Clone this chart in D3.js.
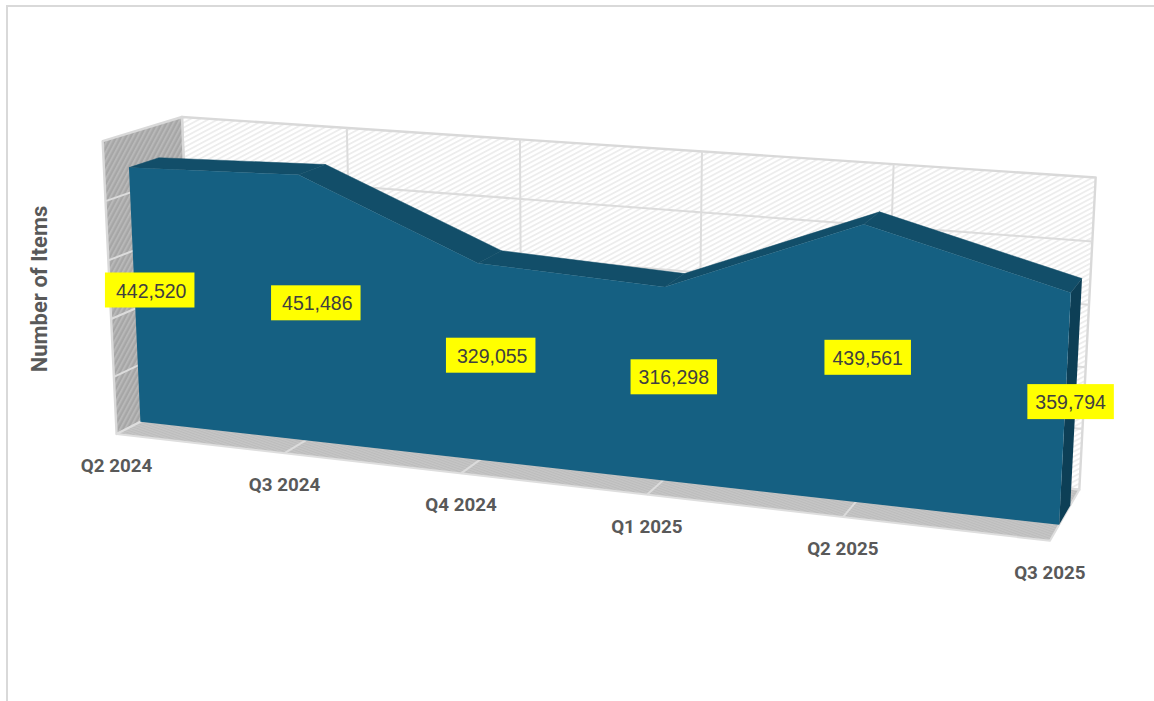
<!DOCTYPE html>
<html>
<head>
<meta charset="utf-8">
<script src="https://cdn.jsdelivr.net/npm/d3@7/dist/d3.min.js"></script>
<style>
  html, body { margin: 0; padding: 0; background: #fff; }
  svg { display: block; }
</style>
</head>
<body>
<svg id="chart" width="1154" height="701"></svg>
<script>
// Quarterly item counts
const categories = ["Q2 2024", "Q3 2024", "Q4 2024", "Q1 2025", "Q2 2025", "Q3 2025"];
const itemCounts = [442520, 451486, 329055, 316298, 439561, 359794];
const axisTitle = "Number of Items";
const valueMax = 500000;
const valueStep = 100000;

// Chart-space scales: each one maps onto the unit box
const uScale = d3.scalePoint().domain(categories).range([0, 1]);
const vScale = d3.scaleLinear().domain([0, valueMax]).range([0, 1]);
const seriesDepth = [0.30, 0.68];

// Camera calibration pairs: [u, v, depth] -> [screen x, screen y]
const calibration = [
  [[0, 0, 0], [117, 433]], [[1, 0, 0], [1052, 542]], [[1, 0, 1], [1080, 490]], [[0, 0, 1], [192, 397]],
  [[0, 1, 0], [101, 142]], [[0, 1, 1], [182, 116]], [[1, 1, 1], [1096, 178]],
  [[0, 0, .3], [141, 421]], [[1, 0, .3], [1058, 524]], [[1, 0, .68], [1069, 505]],
  [[0, .885, .3], [129, 168]], [[0, .885, .68], [159, 158]],
  [[.2, .903, .3], [300, 175]], [[.2, .903, .68], [327, 164]],
  [[.4, .658, .3], [477, 263]], [[.4, .658, .68], [502, 250]],
  [[.6, .633, .3], [663, 287]], [[.6, .633, .68], [685, 272]],
  [[.8, .879, .3], [864, 225]], [[.8, .879, .68], [879, 213]],
  [[1, .72, .3], [1071, 293]], [[1, .72, .68], [1082, 277]]
];

// Least-squares fit of a 3x4 projective camera, with the last element fixed at 1
function fitCamera(pairs) {
  const n = 11, A = d3.range(n).map(() => new Array(n + 1).fill(0));
  const addRow = (r, b) => {
    for (let i = 0; i < n; i++) {
      for (let j = 0; j < n; j++) A[i][j] += r[i] * r[j];
      A[i][n] += r[i] * b;
    }
  };
  for (const [[X, Y, Z], [sx, sy]] of pairs) {
    const x = sx / 1000, y = sy / 1000;
    addRow([X, Y, Z, 1, 0, 0, 0, 0, -x * X, -x * Y, -x * Z], x);
    addRow([0, 0, 0, 0, X, Y, Z, 1, -y * X, -y * Y, -y * Z], y);
  }
  for (let c = 0; c < n; c++) {
    let pivot = c;
    for (let r = c + 1; r < n; r++) if (Math.abs(A[r][c]) > Math.abs(A[pivot][c])) pivot = r;
    [A[c], A[pivot]] = [A[pivot], A[c]];
    for (let r = 0; r < n; r++) {
      if (r === c) continue;
      const f = A[r][c] / A[c][c];
      for (let k = c; k <= n; k++) A[r][k] -= f * A[c][k];
    }
  }
  return A.map((row, i) => row[n] / row[i]);
}
const cam = fitCamera(calibration);

function project(u, v, d) {
  const w = cam[8] * u + cam[9] * v + cam[10] * d + 1;
  return [
    1000 * (cam[0] * u + cam[1] * v + cam[2] * d + cam[3]) / w,
    1000 * (cam[4] * u + cam[5] * v + cam[6] * d + cam[7]) / w
  ];
}

const svg = d3.select("#chart");
const poly = pts => "M" + pts.map(p => p.map(n => n.toFixed(2)).join(",")).join("L") + "Z";
const defs = svg.append("defs");

function hatch(id, bg, ink, size, lineWidth, angle) {
  const p = defs.append("pattern").attr("id", id).attr("patternUnits", "userSpaceOnUse")
    .attr("width", size).attr("height", size)
    .attr("patternTransform", `rotate(${angle})`);
  p.append("rect").attr("width", size).attr("height", size).attr("fill", bg);
  p.append("rect").attr("width", size).attr("height", lineWidth).attr("fill", ink);
}
hatch("wallBack", "#ffffff", "#ededed", 4.4, 1.8, -28);
hatch("wallLeft", "#a6a6a6", "#b8b8b8", 4.2, 2, -62);
hatch("wallFloor", "#c6c6c6", "#bcbcbc", 2.4, 1.1, 20);

// Chart frame, open on the right and at the bottom
svg.append("path").attr("d", "M7,701V6H1154").attr("fill", "none")
  .attr("stroke", "#d9d9d9").attr("stroke-width", 2);

// Box walls
const wallStroke = "#d9d9d9";
const box = svg.append("g").attr("stroke-linejoin", "round");
box.append("path").attr("d", poly([project(0,0,1), project(1,0,1), project(1,1,1), project(0,1,1)]))
  .attr("fill", "url(#wallBack)").attr("stroke", wallStroke).attr("stroke-width", 2.4);
box.append("path").attr("d", poly([project(0,0,0), project(0,0,1), project(0,1,1), project(0,1,0)]))
  .attr("fill", "url(#wallLeft)").attr("stroke", wallStroke).attr("stroke-width", 2.4);
box.append("path").attr("d", poly([project(0,0,0), project(1,0,0), project(1,0,1), project(0,0,1)]))
  .attr("fill", "url(#wallFloor)").attr("stroke", "#dedede").attr("stroke-width", 2);

// Gridlines: values run across the back and left walls, categories across the back wall and floor
const grid = svg.append("g").attr("stroke", "#dcdcdc").attr("stroke-width", 2).attr("fill", "none");
const valueTicks = d3.range(valueStep, valueMax, valueStep);
for (const t of valueTicks) {
  const v = vScale(t);
  grid.append("path").attr("d", d3.line()([project(0, v, 0), project(0, v, 1), project(1, v, 1)]));
}
for (const c of categories.slice(1, -1)) {
  const u = uScale(c);
  grid.append("path").attr("d", d3.line()([project(u, 0, 0), project(u, 0, 1), project(u, 1, 1)]));
}

// Series: top ribbon and end cap behind the front face
const [d0, d1] = seriesDepth;
const tops = categories.map((c, i) => ({ u: uScale(c), v: vScale(itemCounts[i]) }));
const series = svg.append("g");
series.selectAll("path.top").data(d3.pairs(tops)).join("path").attr("class", "top")
  .attr("d", ([a, b]) => poly([project(a.u, a.v, d0), project(b.u, b.v, d0), project(b.u, b.v, d1), project(a.u, a.v, d1)]))
  .attr("fill", "#124e69").attr("stroke", "#124e69").attr("stroke-width", 0.5);
const last = tops[tops.length - 1];
series.append("path")
  .attr("d", poly([project(1, 0, d0), project(1, last.v, d0), project(1, last.v, d1), project(1, 0, d1)]))
  .attr("fill", "#0d3f56");
series.append("path")
  .attr("d", poly([project(0, 0, d0), ...tops.map(t => project(t.u, t.v, d0)), project(1, 0, d0)]))
  .attr("fill", "#156082");

// Value labels centred in the series volume
const labelExtraLeft = [3, 3, 3, 0, 0, 0];
const labels = svg.append("g");
categories.forEach((c, i) => {
  const [cx, cy] = project(uScale(c), vScale(itemCounts[i]) / 2, (d0 + d1) / 2);
  const g = labels.append("g").attr("transform", `translate(${cx.toFixed(1)},${cy.toFixed(1)})`);
  const rect = g.append("rect").attr("fill", "#ffff00");
  const text = g.append("text").text(d3.format(",")(itemCounts[i]))
    .attr("font-family", "'Liberation Sans', Arial, sans-serif").attr("font-size", 19.5)
    .attr("fill", "#404040").attr("text-anchor", "middle").attr("dominant-baseline", "central")
    .attr("x", labelExtraLeft[i] / 2).attr("y", 0.5);
  const w = text.node().getComputedTextLength() + 16 + labelExtraLeft[i];
  rect.attr("x", -w / 2).attr("y", -17.5).attr("width", w).attr("height", 35);
});

// Category labels below the front floor edge
const catFont = "Roboto, 'Liberation Sans', sans-serif";
svg.append("g").selectAll("text").data(categories).join("text")
  .text(d => d)
  .attr("transform", d => {
    const [x, y] = project(uScale(d), 0, 0);
    return `translate(${x.toFixed(1)},${(y + 32).toFixed(1)})`;
  })
  .attr("font-family", catFont).attr("font-weight", 700).attr("font-size", 18.8)
  .attr("fill", "#595959").attr("text-anchor", "middle").attr("dominant-baseline", "central");

svg.append("text").text(axisTitle)
  .attr("transform", "translate(39,289) rotate(-90)")
  .attr("font-family", catFont).attr("font-weight", 700).attr("font-size", 22)
  .attr("fill", "#595959").attr("text-anchor", "middle").attr("dominant-baseline", "central");
</script>
</body>
</html>
